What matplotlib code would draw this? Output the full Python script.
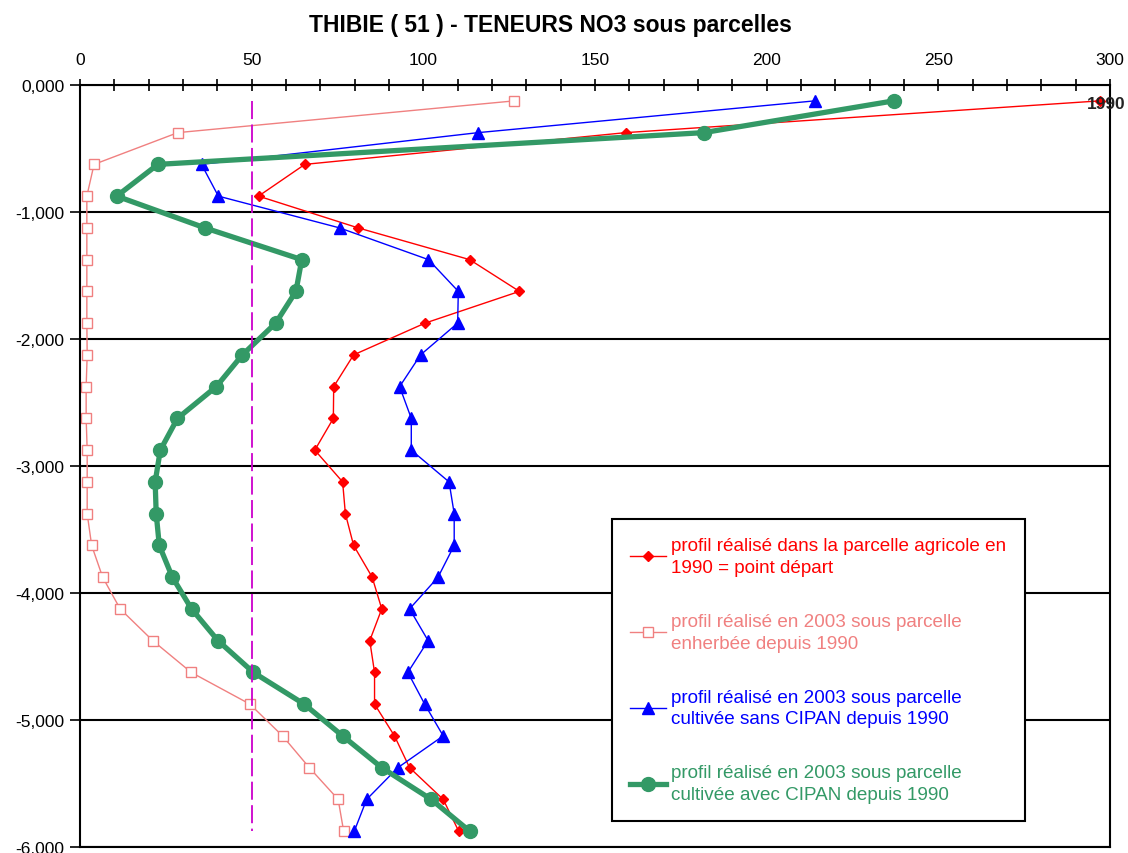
#!/usr/bin/env python
"""
Profils de teneurs en NO3 sous parcelles - THIBIE (51)
"""

import matplotlib
matplotlib.use("Agg")
import matplotlib.pyplot as plt
from matplotlib.ticker import MultipleLocator, FuncFormatter

plt.rcParams['font.family'] = ['Liberation Sans', 'DejaVu Sans']

# Profondeurs (m) des prelevements, milieu de chaque couche de 25 cm
profondeur = [-0.125, -0.375, -0.625, -0.875, -1.125, -1.375, -1.625, -1.875,
              -2.125, -2.375, -2.625, -2.875, -3.125, -3.375, -3.625, -3.875,
              -4.125, -4.375, -4.625, -4.875, -5.125, -5.375, -5.625, -5.875]

# Teneurs NO3
agricole_1990 = [297, 159, 65.5, 52, 81, 113.5, 128, 100.5,
                 79.7, 73.9, 73.8, 68.4, 76.5, 77.3, 79.7, 85.1,
                 87.9, 84.4, 85.8, 85.8, 91.6, 96, 105.8, 110.3]
enherbee_2003 = [126.5, 28.5, 4.1, 2, 2, 2, 2, 2,
                 2.1, 1.8, 1.8, 2.1, 2.1, 2.1, 3.4, 6.6,
                 11.7, 21.2, 32.4, 49.5, 59, 66.8, 75.2, 76.8]
sans_cipan_2003 = [214, 116, 35.4, 40.3, 75.6, 101.5, 110.2, 110,
                   99.2, 93.1, 96.5, 96.5, 107.5, 109, 109, 104.3,
                   96, 101.4, 95.5, 100.4, 105.8, 92.6, 83.5, 79.9]
avec_cipan_2003 = [237, 181.7, 22.7, 10.7, 36.4, 64.6, 62.9, 57,
                   47.3, 39.7, 28.4, 23.4, 21.9, 22.2, 23.1, 26.9,
                   32.5, 40.2, 50.5, 65.3, 76.5, 87.9, 102.3, 113.5]

# Seuil de 50 mg/l
SEUIL = 50

labels = ["profil réalisé dans la parcelle agricole en\n1990 = point départ",
          "profil réalisé en 2003 sous parcelle\nenherbée depuis 1990",
          "profil réalisé en 2003 sous parcelle\ncultivée sans CIPAN depuis 1990",
          "profil réalisé en 2003 sous parcelle\ncultivée avec CIPAN depuis 1990"]
colors = ['#FF0000', '#F08080', '#0000FF', '#339966']

fig = plt.figure(figsize=(11.28, 8.54), dpi=100)
ax = fig.add_axes([0.0709, 0.0070, 0.9131, 0.8923])

ax.plot(agricole_1990, profondeur, color=colors[0], lw=1, marker='D',
        markersize=5, label=labels[0], zorder=3)
ax.plot(enherbee_2003, profondeur, color=colors[1], lw=1, marker='s',
        markersize=7.5, markerfacecolor='white', markeredgewidth=1,
        label=labels[1], zorder=2)
ax.plot(sans_cipan_2003, profondeur, color=colors[2], lw=1, marker='^',
        markersize=8, label=labels[2], zorder=4)
ax.plot(avec_cipan_2003, profondeur, color=colors[3], lw=3.8, marker='o',
        markersize=10, label=labels[3], zorder=5)
ax.plot([SEUIL] * len(profondeur), profondeur, color='#CC00CC', lw=1.3,
        dashes=(10, 3), zorder=6)

# Etiquette de donnee du premier point de 1990
ax.annotate("1990", (agricole_1990[0], profondeur[0]), xytext=(5, -2),
            textcoords='offset points', ha='center', va='center',
            fontsize=12.5, fontweight='bold', color='#222222', zorder=7,
            annotation_clip=False)

ax.set_xlim(0, 300)
ax.set_ylim(-6, 0)
ax.xaxis.tick_top()
ax.xaxis.set_major_locator(MultipleLocator(50))
ax.xaxis.set_minor_locator(MultipleLocator(10))
ax.yaxis.set_major_locator(MultipleLocator(1))
ax.yaxis.set_major_formatter(
    FuncFormatter(lambda v, pos: ('%.3f' % v).replace('.', ',')))
ax.tick_params(axis='x', which='both', direction='inout', length=8,
               width=1.2, labelsize=12.5, pad=9)
ax.tick_params(axis='y', direction='out', length=7, width=1.2,
               labelsize=12.5, pad=4)
ax.yaxis.grid(True, color='black', lw=1.5)
ax.set_axisbelow(True)
for side in ax.spines.values():
    side.set_linewidth(1.5)

fig.text(0.488, 0.970, "THIBIE ( 51 ) - TENEURS NO3 sous parcelles",
         ha='center', va='center', fontsize=16.5, fontweight='bold')

leg = ax.legend(loc='upper left', bbox_to_anchor=(0.5165, 0.4304),
                fontsize=13.6, frameon=True, fancybox=False, framealpha=1,
                edgecolor='black', borderpad=0.95, labelspacing=1.95,
                handlelength=1.9, handletextpad=0.3, borderaxespad=0)
leg.get_frame().set_linewidth(1.5)
leg.set_zorder(10)
for text, col in zip(leg.get_texts(), colors):
    text.set_color(col)
    text.set_linespacing(1.38)

if __name__ == "__main__":
    fig.savefig("out.png", dpi=100)
